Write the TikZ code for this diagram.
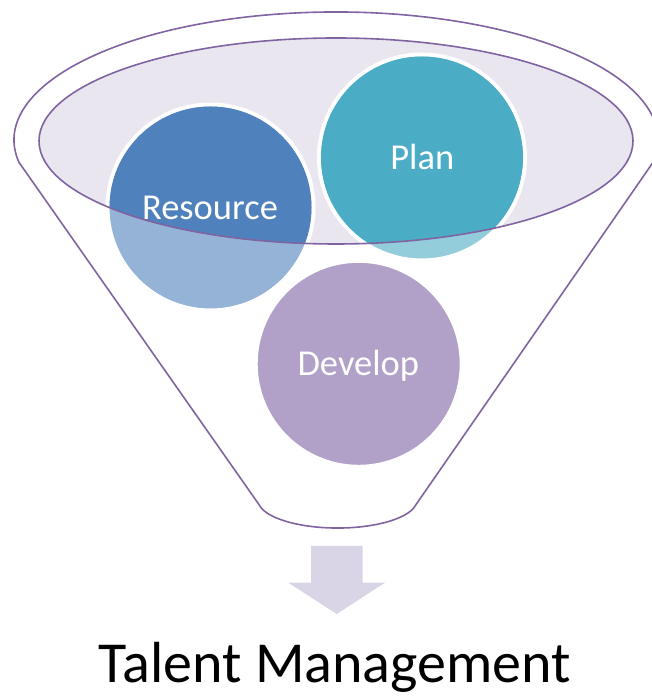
\documentclass[tikz,border=0pt]{standalone}
\usepackage{fontspec}
\setmainfont{Carlito}
\definecolor{funnelline}{HTML}{8064A2}
\definecolor{glass}{HTML}{E9E6EF}
\definecolor{resdark}{HTML}{4F81BD}
\definecolor{reslight}{HTML}{95B3D7}
\definecolor{plandark}{HTML}{4BACC6}
\definecolor{planlight}{HTML}{93CDDC}
\definecolor{devfill}{HTML}{B1A0C7}
\definecolor{arrowfill}{HTML}{D9D5E6}
\tikzset{
  rimline/.style={draw=funnelline, line width=1.6pt},
  ball/.style={circle, draw=white, line width=4pt, minimum size=206pt, inner sep=0pt},
  balllabel/.style={text=white, font=\fontsize{36.5}{40}\selectfont,
    text height=23.5pt, text depth=0pt, inner sep=0pt},
}
\begin{document}
\begin{tikzpicture}[x=1pt,y=1pt]
  \useasboundingbox (0,0) rectangle (652,698);
  \clip (0,0) rectangle (652,698);

  % funnel body: rim arc, two sides and rounded bottom
  \coordinate (rimL) at (18.9,535.8);
  \coordinate (botR) at (415.8,193.1);
  \draw[rimline] (rimL)
    arc[start angle=190, end angle=-10, x radius=322, y radius=128]
    -- (botR)
    arc[start angle=-10, end angle=-170, x radius=79.5, y radius=28]
    -- cycle;

  % glass opening of the funnel
  \fill[glass] (336,557) ellipse[x radius=297, y radius=103];

  % the three balls (light tone outside the opening)
  \node[ball, fill=reslight]  (res)  at (210.5,490.5) {};
  \node[ball, fill=planlight] (plan) at (422,540.5) {};
  \node[ball, fill=devfill]   (dev)  at (358.7,334.2) {};

  % full tone where the balls sit inside the opening
  \begin{scope}
    \clip (336,557) ellipse[x radius=297, y radius=103];
    \fill[resdark]  (res.center)  circle[radius=101];
    \fill[plandark] (plan.center) circle[radius=101];
  \end{scope}

  % rim of the opening
  \draw[rimline] (336,557) ellipse[x radius=297, y radius=103];

  % labels
  \node[balllabel] (resT)  at (210,490.5) {Resource};
  \node[balllabel] (planT) at (422.3,540.5) {Plan};
  \node[balllabel] (devT)  at (358.3,334.2) {Develop};

  % output arrow
  \fill[arrowfill] (311,152) -- (362.7,152) -- (362.7,115.3) -- (385,115.3)
    -- (336.7,84) -- (288.3,115.3) -- (311,115.3) -- cycle;

  % result
  \node[anchor=base, inner sep=0pt, font=\fontsize{58}{64}\selectfont] (result) at (335,15.5) {Talent Management};
\end{tikzpicture}
\end{document}
